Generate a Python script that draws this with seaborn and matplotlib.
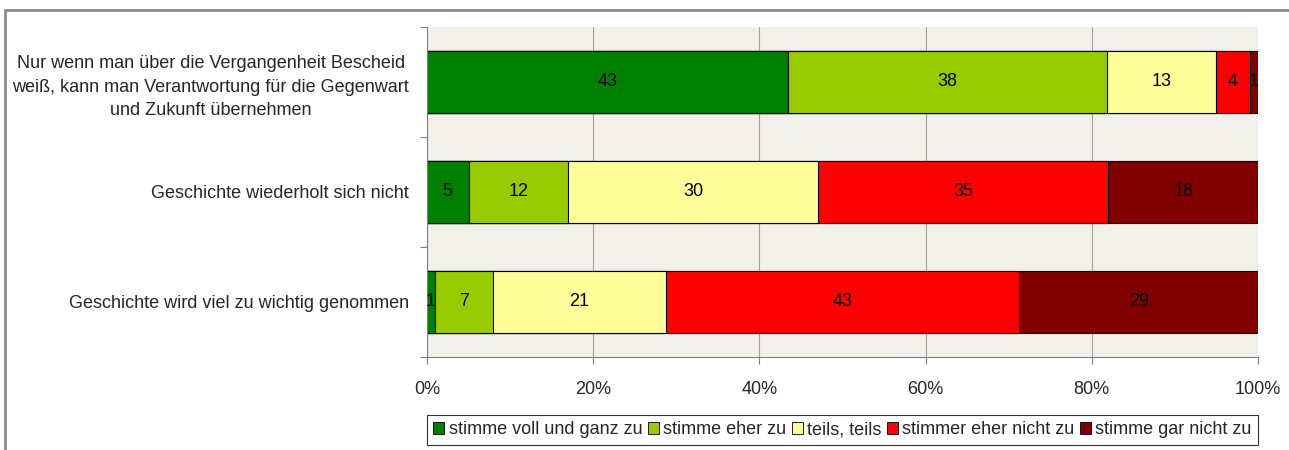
import numpy as np
import pandas as pd
import seaborn as sns
import matplotlib.pyplot as plt
from matplotlib.lines import Line2D
from matplotlib.patches import Patch

questions = ['Nur wenn man über die Vergangenheit Bescheid\nweiß, kann man Verantwortung für die Gegenwart\nund Zukunft übernehmen',
             'Geschichte wiederholt sich nicht',
             'Geschichte wird viel zu wichtig genommen']
answers = ['stimme voll und ganz zu', 'stimme eher zu', 'teils, teils',
           'stimmer eher nicht zu', 'stimme gar nicht zu']
voll = [43, 5, 1]
eher = [38, 12, 7]
teils = [13, 30, 21]
eher_nicht = [4, 35, 43]
gar_nicht = [1, 18, 29]
colors = ['#008000', '#99CC00', '#FFFF99', '#FF0000', '#800000']

df = pd.DataFrame({'frage': questions, answers[0]: voll, answers[1]: eher,
                   answers[2]: teils, answers[3]: eher_nicht, answers[4]: gar_nicht})
vals = df[answers].to_numpy(dtype=float)
pct = vals / vals.sum(axis=1, keepdims=True) * 100
cum = np.cumsum(pct, axis=1)

sns.set_style('white')
plt.rcParams['font.family'] = ['Liberation Sans', 'DejaVu Sans']
fs = 13

fig = plt.figure(figsize=(12.89, 4.5), dpi=100)
ax = fig.add_axes([427/1289, 1-357/450, 831/1289, 330/450])
ax.set_facecolor('#F2F0EA')

# draw from the right end backwards so each shorter bar sits on top
for i in range(len(answers) - 1, -1, -1):
    sns.barplot(x=cum[:, i], y=questions, color=colors[i], orient='h', width=0.57,
                edgecolor='black', linewidth=0.8, saturation=1, ax=ax, zorder=2)

for r in range(len(questions)):
    start = 0
    for i in range(len(answers)):
        ax.text(start + pct[r, i] / 2, r, str(int(vals[r, i])), ha='center', va='center',
                fontsize=fs, color='black', zorder=3)
        start = cum[r, i]

ax.set_xlim(0, 100)
ax.set_ylim(2.5, -0.5)
ax.set_xticks(np.arange(0, 101, 20))
ax.set_xticklabels([f'{t}%' for t in range(0, 101, 20)], fontsize=fs)
ax.xaxis.grid(True, color='#A0A0A0', linewidth=0.8, zorder=0)
ax.set_axisbelow(True)
ax.set_yticks([-0.5, 0.5, 1.5, 2.5])
ax.set_yticklabels([])
ax.set_yticks([0, 1, 2], minor=True)
ax.set_yticklabels(questions, minor=True, fontsize=fs, multialignment='center', linespacing=1.5)
ax.tick_params(axis='y', which='minor', length=0, pad=13)
ax.tick_params(axis='y', which='major', length=5, color='#808080', left=True)
ax.tick_params(axis='x', length=5, color='#808080', bottom=True, pad=12)
ax.set_xlabel('')
ax.set_ylabel('')
for s in ['top', 'right']:
    ax.spines[s].set_visible(False)
for s in ['left', 'bottom']:
    ax.spines[s].set_color('#808080')
    ax.spines[s].set_linewidth(0.8)

handles = [Patch(facecolor=c, edgecolor='black', linewidth=0.6) for c in colors]
leg = fig.legend(handles, answers, loc='center', bbox_to_anchor=(842.5/1289, 1-430/450),
                 ncol=5, fontsize=fs, frameon=True, fancybox=False, edgecolor='black',
                 handlelength=0.6, handleheight=0.6, handletextpad=0.25, columnspacing=0.3,
                 borderpad=0.35)
leg.get_frame().set_linewidth(0.8)

fig.add_artist(Line2D([5/1289, 1.0], [1-10/450, 1-10/450], color='#8C8C8C', linewidth=2, transform=fig.transFigure))
fig.add_artist(Line2D([5/1289, 5/1289], [0, 1-10/450], color='#8C8C8C', linewidth=2, transform=fig.transFigure))

fig.savefig('out.png', dpi=100)
